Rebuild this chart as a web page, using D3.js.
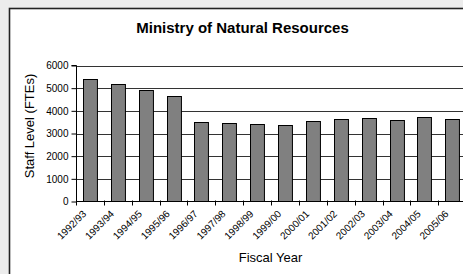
<!DOCTYPE html>
<html>
<head>
<meta charset="utf-8">
<script src="https://cdn.jsdelivr.net/npm/d3@7"></script>
<style>
  html, body { margin: 0; padding: 0; background: #ececec; }
  svg { display: block; font-family: "Liberation Sans", Arial, sans-serif; }
</style>
</head>
<body>
<svg id="chart" width="463" height="274"></svg>
<script>
const categories = ["1992/93","1993/94","1994/95","1995/96","1996/97","1997/98","1998/99","1999/00","2000/01","2001/02","2002/03","2003/04","2004/05","2005/06"];
const staff = [5420, 5180, 4930, 4640, 3500, 3455, 3410, 3370, 3545, 3630, 3675, 3590, 3720, 3630];
const yTicks = [0, 1000, 2000, 3000, 4000, 5000, 6000];

const svg = d3.select("#chart");

// outer chart frame (extends past right/bottom of the view)
svg.append("rect").attr("x", 9.5).attr("y", 8.5).attr("width", 480).attr("height", 300)
  .attr("fill", "#fff").attr("stroke", "#222").attr("stroke-width", 1.6);

const x0 = 76, x1 = 466.2;
const x = d3.scaleBand().domain(categories).range([x0, x1]).paddingInner(0.5).paddingOuter(0.25);
const y = d3.scaleLinear().domain([0, 6000]).range([201.5, 65.5]);

// gridlines
svg.append("g").selectAll("line").data(yTicks.filter(d => d > 0)).join("line")
  .attr("x1", x0).attr("x2", 470)
  .attr("y1", d => Math.round(y(d)) + 0.5).attr("y2", d => Math.round(y(d)) + 0.5)
  .attr("stroke", "#333").attr("stroke-width", 1);

// bars
svg.append("g").selectAll("rect").data(staff).join("rect")
  .attr("x", (d, i) => Math.round(x(categories[i])) + 0.5)
  .attr("y", d => Math.round(y(d)) + 0.5)
  .attr("width", x.bandwidth())
  .attr("height", d => y(0) - Math.round(y(d)) - 0.5)
  .attr("fill", "#808080").attr("stroke", "#000").attr("stroke-width", 1);

// y axis
const yAxis = d3.axisLeft(y).tickValues(yTicks).tickSize(5).tickPadding(3).tickFormat(d3.format("d"));
const gy = svg.append("g").attr("transform", `translate(${x0 + 0.5},0)`).call(yAxis);
gy.select(".domain").attr("stroke", "#000").attr("d", `M-5,${y(6000)}H0V${y(0)}`);
gy.selectAll(".tick line").attr("stroke", "#000");
gy.selectAll(".tick text").attr("font-size", 10).attr("fill", "#000")
  .attr("font-family", "Liberation Sans, Arial, sans-serif");

// x axis line
svg.append("line").attr("x1", x0).attr("x2", 470).attr("y1", y(0)).attr("y2", y(0)).attr("stroke", "#000");

// x ticks at category boundaries
const step = x.step();
svg.append("g").selectAll("line").data(d3.range(0, categories.length + 1)).join("line")
  .attr("x1", i => Math.round(x0 + i * step) + 0.5).attr("x2", i => Math.round(x0 + i * step) + 0.5)
  .attr("y1", y(0) - 1).attr("y2", y(0) + 4)
  .attr("stroke", "#000");

// x tick labels, rotated
svg.append("g").selectAll("text").data(categories).join("text")
  .attr("transform", d => `translate(${x(d) + x.bandwidth() / 2 - 3},${y(0) + 13}) rotate(-45)`)
  .attr("text-anchor", "end")
  .attr("font-size", 10)
  .attr("fill", "#000")
  .text(d => d);

// title
svg.append("text").attr("x", 242.5).attr("y", 33).attr("text-anchor", "middle")
  .attr("font-size", 15).attr("font-weight", "bold").attr("fill", "#000")
  .text("Ministry of Natural Resources");

// axis titles
svg.append("text").attr("x", 270.5).attr("y", 262).attr("text-anchor", "middle")
  .attr("font-size", 13).attr("fill", "#000").text("Fiscal Year");

svg.append("text").attr("transform", "translate(34,126) rotate(-90)").attr("text-anchor", "middle")
  .attr("font-size", 13).attr("fill", "#000").text("Staff Level (FTEs)");
</script>
</body>
</html>
